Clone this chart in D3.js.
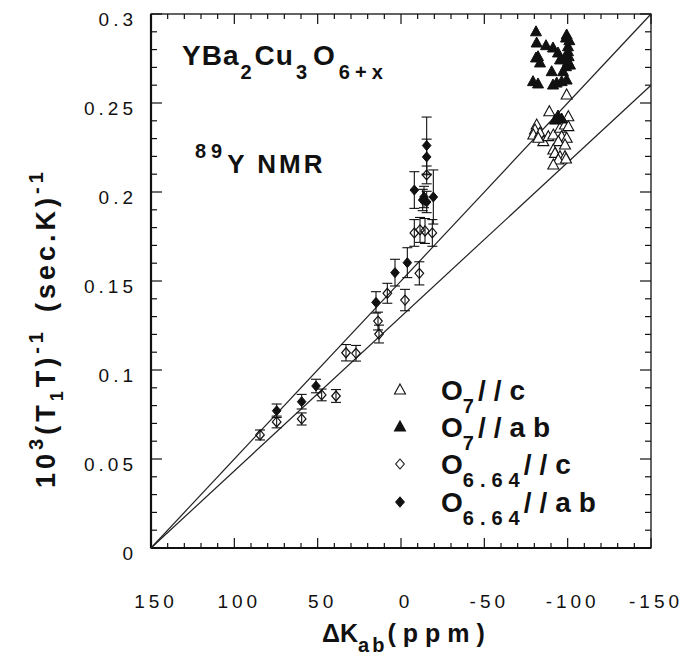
<!DOCTYPE html>
<html><head><meta charset="utf-8">
<script src="https://cdn.jsdelivr.net/npm/d3@7"></script>
<style>
body{margin:0;background:#fff;}
svg{display:block;font-family:"Liberation Sans",Arial,Helvetica,sans-serif;}
</style></head>
<body><svg id="c" width="690" height="670"></svg>
<script>
// ---- data ----
const xTicks = [150, 100, 50, 0, -50, -100, -150];
const yTicks = [0, 0.05, 0.1, 0.15, 0.2, 0.25, 0.3];
const yTickLabels = ["0", "0.05", "0.1", "0.15", "0.2", "0.25", "0.3"];
// fit lines: through (150,0) to the right edge
const fitLineUpper = [[150, 0], [-150, 0.3]];
const fitLineLower = [[150, 0], [-150, 0.26]];
// O7 // c  (open triangles)  [dK, value]
const o7c = [[-99.4,0.2545],[-89,0.2451],[-100.4,0.2423],[-81.4,0.2376],[-80.4,0.2348],[-79.4,0.2320],
  [-83.4,0.2330],[-85.4,0.2283],[-88.4,0.2311],[-91.4,0.2320],[-95.4,0.2358],[-98.4,0.2376],[-100.4,0.2367],
  [-96.4,0.2311],[-99.4,0.2302],[-94.4,0.2283],[-98.4,0.2264],[-91.4,0.2236],[-92.4,0.2217],[-95.4,0.2198],
  [-98.4,0.2198],[-94.4,0.2180],[-91.4,0.2152],[-99,0.2185],[-82.4,0.2302]];
// O7 // ab (filled triangles)
const o7ab = [[-81,0.290],[-81.4,0.2837],[-87,0.2822],[-91.2,0.2809],[-99,0.2865],[-99.4,0.2882],[-100.2,0.2816],
  [-94.2,0.2781],[-82.2,0.276],[-81,0.2753],[-83.4,0.2725],[-100.2,0.2732],[-99,0.2704],[-100.2,0.2788],
  [-90.4,0.2676],[-79.2,0.262],[-82.2,0.2607],[-91.2,0.2601],[-96.4,0.262],[-99.4,0.2629],[-93.4,0.2612],
  [-97.2,0.2676],[-101.4,0.2713],[-95.4,0.2742],[-101,0.2850],[-100.6,0.2760],[-98.6,0.2750],
  [-92.4,0.2404],[-96.4,0.241],[-94.2,0.2427]];
// O6.64 // c (open diamonds) [dK, value, error]
const o664c = [[84.6,0.0635,0.0028],[74.6,0.0708,0.0033],[59.6,0.0725,0.0034],[47.6,0.086,0.0033],
  [39,0.0854,0.0036],[33,0.1097,0.0046],[27,0.1094,0.0044],[13.8,0.1275,0.005],[13.2,0.1202,0.005],
  [8.2,0.1431,0.0056],[-2.4,0.1393,0.006],[-11,0.1543,0.0065],[-8,0.177,0.0075],[-11.4,0.1787,0.007],
  [-14.4,0.1781,0.007],[-18.8,0.177,0.0075],[-15.4,0.2096,0.005]];
// O6.64 // ab (filled diamonds)
const o664ab = [[74.6,0.0771,0.0038],[59.6,0.0822,0.0041],[51,0.091,0.0038],[15,0.138,0.006],
  [3.6,0.1547,0.0075],[-3.8,0.1603,0.0084],[-8,0.2011,0.0103],[-13,0.1955,0.006],[-15.4,0.1944,0.006],
  [-19.4,0.1972,0.0152],[-13.8,0.1972,0.006],[-15.4,0.2261,0.016],[-15.4,0.2197,0.01]];

// ---- layout ----
const svg = d3.select("#c");
const L = 151, R = 651, T = 14, B = 548;
const x = d3.scaleLinear().domain([150, -150]).range([L, R]);
const y = d3.scaleLinear().domain([0, 0.3]).range([B, T]);
const ink = "#111";

// frame
svg.append("rect").attr("x", L).attr("y", T).attr("width", R - L).attr("height", B - T)
  .attr("fill", "none").attr("stroke", ink).attr("stroke-width", 1.3);
svg.append("line").attr("x1", L).attr("x2", L).attr("y1", T).attr("y2", B).attr("stroke", ink).attr("stroke-width", 2.2);
svg.append("line").attr("x1", L).attr("x2", R).attr("y1", B).attr("y2", B).attr("stroke", ink).attr("stroke-width", 2);

// ticks
const g = svg.append("g").attr("stroke", ink).attr("stroke-width", 1.2);
d3.range(150, -151, -10).forEach(v => {
  const major = Math.abs(v % 50) < 1e-9;
  const len = major ? 10 : 5;
  g.append("line").attr("x1", x(v)).attr("x2", x(v)).attr("y1", B).attr("y2", B - len);
  g.append("line").attr("x1", x(v)).attr("x2", x(v)).attr("y1", T).attr("y2", T + len);
});
d3.range(0, 31, 1).forEach(i => {
  const v = i / 100;
  const major = i % 5 === 0;
  const len = major ? 11 : 6;
  g.append("line").attr("x1", L).attr("x2", L + len).attr("y1", y(v)).attr("y2", y(v));
  g.append("line").attr("x1", R).attr("x2", R - len).attr("y1", y(v)).attr("y2", y(v));
});

// tick labels
svg.append("g").selectAll("text").data(xTicks).join("text")
  .attr("x", d => x(d) + 5).attr("y", 608).attr("text-anchor", "middle")
  .attr("font-size", 19).attr("letter-spacing", 4).attr("fill", ink)
  .text(d => String(d));
svg.append("g").selectAll("text").data(yTicks).join("text")
  .attr("x", 137).attr("y", d => y(d) + 12).attr("text-anchor", "end")
  .attr("font-size", 19).attr("letter-spacing", 4).attr("fill", ink)
  .text((d, i) => yTickLabels[i]);

// fit lines
[fitLineUpper, fitLineLower].forEach(ln => {
  svg.append("line").attr("x1", x(ln[0][0])).attr("y1", y(ln[0][1]))
    .attr("x2", x(ln[1][0])).attr("y2", y(ln[1][1]))
    .attr("stroke", "#222").attr("stroke-width", 1.2);
});

// markers
const tri = "M0,-6 L5.5,4 L-5.5,4 Z";
const dia = "M0,-5 L4.3,0 L0,5 L-4.3,0 Z";
function errBars(data) {
  const eg = svg.append("g").attr("stroke", ink).attr("stroke-width", 1.1);
  data.forEach(d => {
    const cx = x(d[0]), y1 = y(d[1] + d[2]), y2 = y(d[1] - d[2]);
    eg.append("line").attr("x1", cx).attr("x2", cx).attr("y1", y1).attr("y2", y2);
    eg.append("line").attr("x1", cx - 5).attr("x2", cx + 5).attr("y1", y1).attr("y2", y1);
    eg.append("line").attr("x1", cx - 5).attr("x2", cx + 5).attr("y1", y2).attr("y2", y2);
  });
}
errBars(o664c);
errBars(o664ab);
svg.append("g").selectAll("path").data(o664c).join("path")
  .attr("d", dia).attr("transform", d => `translate(${x(d[0])},${y(d[1])})`)
  .attr("fill", "none").attr("stroke", ink).attr("stroke-width", 1.2);
svg.append("g").selectAll("path").data(o664ab).join("path")
  .attr("d", dia).attr("transform", d => `translate(${x(d[0])},${y(d[1])})`)
  .attr("fill", ink).attr("stroke", ink).attr("stroke-width", 1);
svg.append("g").selectAll("path").data(o7c).join("path")
  .attr("d", tri).attr("transform", d => `translate(${x(d[0])},${y(d[1])})`)
  .attr("fill", "#fff").attr("stroke", ink).attr("stroke-width", 1.1);
svg.append("g").selectAll("path").data(o7ab).join("path")
  .attr("d", tri).attr("transform", d => `translate(${x(d[0])},${y(d[1])})`)
  .attr("fill", ink).attr("stroke", ink).attr("stroke-width", 1);

// title texts
const t1 = svg.append("text").attr("x", 182).attr("y", 65).attr("font-size", 28).attr("font-weight", "bold").attr("fill", ink).attr("letter-spacing", 1);
t1.append("tspan").text("YBa");
t1.append("tspan").attr("font-size", 20).attr("dy", 14).attr("dx", 1).text("2");
t1.append("tspan").attr("dy", -14).attr("dx", 2).text("Cu");
t1.append("tspan").attr("font-size", 20).attr("dy", 14).attr("dx", 2).text("3");
t1.append("tspan").attr("dy", -14).attr("dx", 5).text("O");
t1.append("tspan").attr("font-size", 20).attr("dy", 14).attr("dx", 3).attr("letter-spacing", 5).text("6+x");

const t2 = svg.append("text").attr("x", 195).attr("y", 173).attr("font-size", 26).attr("font-weight", "bold").attr("fill", ink);
t2.append("tspan").attr("font-size", 20).attr("dy", -15).attr("letter-spacing", 5).text("89");
t2.append("tspan").attr("dy", 15).attr("letter-spacing", 3).text("Y NMR");

// legend
const legend = [
  {sym: tri, fill: "#fff", main: "7", rest: "//c", y: 400},
  {sym: tri, fill: ink, main: "7", rest: "//ab", y: 437},
  {sym: dia, fill: "none", main: "6.64", rest: "//c", y: 474},
  {sym: dia, fill: ink, main: "6.64", rest: "//ab", y: 512}
];
legend.forEach(d => {
  svg.append("path").attr("d", d.sym).attr("transform", `translate(400,${d.y - 10})`)
    .attr("fill", d.fill).attr("stroke", ink).attr("stroke-width", 1.1);
  const t = svg.append("text").attr("x", 441).attr("y", d.y).attr("font-size", 28).attr("font-weight", "bold").attr("fill", ink);
  t.append("tspan").text("O");
  t.append("tspan").attr("font-size", 20).attr("dy", 13).attr("letter-spacing", 6).text(d.main);
  t.append("tspan").attr("dy", -13).attr("letter-spacing", 8).attr("dx", -2).text(d.rest);
});

// axis titles
const xl = svg.append("text").attr("x", 322).attr("y", 642).attr("font-size", 25).attr("font-weight", "bold").attr("fill", ink);
xl.append("tspan").text("ΔK");
xl.append("tspan").attr("font-size", 20).attr("dy", 10).attr("letter-spacing", 3).text("ab");
xl.append("tspan").attr("dy", -10).attr("letter-spacing", 7).text("(ppm)");

const yl = svg.append("text").attr("transform", "translate(55,488) rotate(-90)")
  .attr("font-size", 27).attr("font-weight", "bold").attr("fill", ink).attr("letter-spacing", 4);
yl.append("tspan").text("10");
yl.append("tspan").attr("font-size", 20).attr("dy", -12).text("3");
yl.append("tspan").attr("dy", 12).text("(T");
yl.append("tspan").attr("font-size", 18).attr("dy", 8).text("1");
yl.append("tspan").attr("dy", -8).text("T)");
yl.append("tspan").attr("font-size", 20).attr("dy", -12).text("-1");
yl.append("tspan").attr("dy", 12).attr("dx", 16).text("(sec.K)");
yl.append("tspan").attr("font-size", 20).attr("dy", -12).text("-1");
</script></body></html>
